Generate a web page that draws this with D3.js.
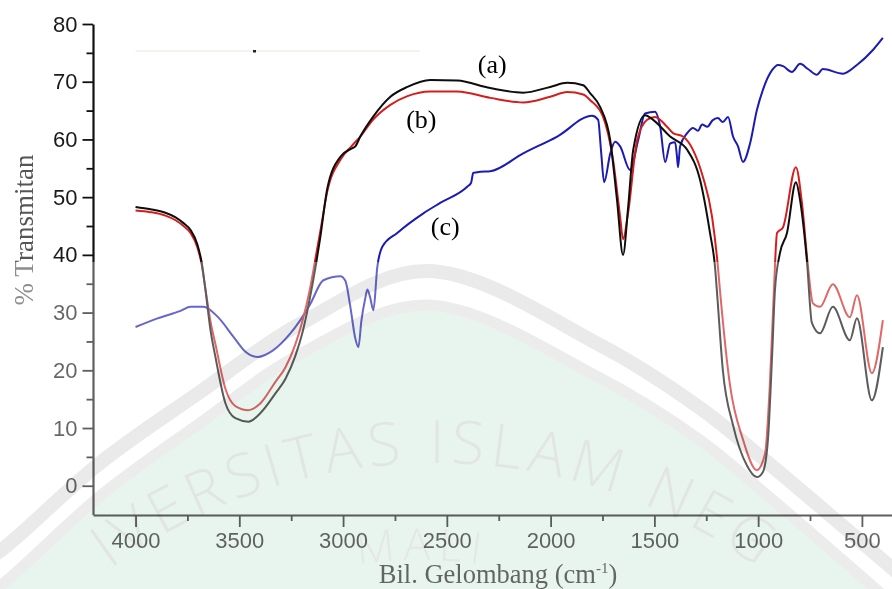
<!DOCTYPE html>
<html>
<head>
<meta charset="utf-8">
<script src="https://cdn.jsdelivr.net/npm/d3@7"></script>
<style>
  body { margin: 0; background: #fff; }
  svg { display: block; }
</style>
</head>
<body>
<div id="chart"></div>
<script>
// spectra: [wavenumber cm-1, % transmitan]
var specA = [
  [4000,48.3],[3928,47.9],[3856,47.3],[3807,46.5],[3769,45.5],[3735,44.3],[3702,41.8],
  [3682,38.8],[3663,33.9],[3639,27],[3615,22.3],[3567,14.3],[3519,11.7],[3456,11.1],
  [3398,12.6],[3326,16],[3278,18.5],[3230,22.5],[3196,26.5],[3160,32.5],[3130,38.5],
  [3110,43],[3076,51.5],[3013,57],[2960,58.4],[2941,58.8],[2917,60.5],[2854,64],
  [2772,67.4],[2690,69.1],[2580,70.3],[2450,70.2],[2291,68.9],[2132,68.1],[2002,69.1],
  [1920,69.8],[1843,69.4],[1809,68],[1761,65.6],[1713,59.9],[1680,49.5],[1651,40],
  [1627,48],[1602,58.2],[1545,64.2],[1506,63.4],[1424,60.5],[1342,58.2],[1280,53],
  [1232,43.8],[1208,38],[1199,33.9],[1170,20],[1121,10.5],[1054,3.5],[1006,1.5],
  [977,2.4],[953,7.9],[933,22.3],[919,33.9],[895,40.3],[861,43.8],[818,52.6],[798,49.5],
  [765,39],[741,28.2],[702,26.4],[640,31],[558,25.2],[524,29],[452,14.8],[399,24]
];
var specB = [
  [4000,47.7],[3928,47.4],[3856,46.8],[3807,46],[3769,45],[3735,43.8],[3702,41.3],
  [3682,38.5],[3663,34],[3639,28.5],[3615,24.5],[3567,16.8],[3519,13.8],[3456,13.1],
  [3398,14.3],[3326,18],[3278,20.5],[3230,24.5],[3196,28.5],[3160,34],[3130,40],
  [3110,44],[3076,51],[3013,56.5],[2960,58.8],[2917,60.5],[2854,63.5],[2772,66],
  [2690,67.5],[2580,68.3],[2450,68.3],[2291,67.2],[2132,66.4],[2002,67.4],[1920,68.2],
  [1843,67.8],[1809,66.8],[1747,63.9],[1699,56.4],[1665,46.6],[1651,42.7],[1627,47.2],
  [1583,59.9],[1535,63.4],[1497,63.9],[1439,62.2],[1410,61.1],[1362,60.5],[1314,58.2],
  [1266,53.5],[1222,46.6],[1194,38],[1184,33.9],[1136,17.5],[1073,8],[1006,2.7],
  [967,5.5],[943,18],[924,33.9],[909,43.8],[880,44.8],[818,55.2],[789,49],[760,38],
  [736,31.6],[702,31],[640,34.9],[558,29.2],[524,33],[452,19.5],[399,28.7]
];
var specC = [
  [4000,27.5],[3894,29],[3783,30.3],[3735,31],[3673,31],[3605,29.3],[3528,25.8],
  [3470,23.2],[3413,22.3],[3336,23.5],[3254,26.4],[3206,28.7],[3158,31.5],[3095,35.6],
  [3013,36.3],[2989,35.5],[2965,31],[2941,25.5],[2926,24],[2912,28.5],[2893,32.5],
  [2883,34],[2870,32.7],[2854,30.4],[2835,37.9],[2811,41.4],[2739,43.8],[2613,47.2],
  [2532,49],[2402,51.8],[2383,52.5],[2373,54.2],[2339,54.4],[2291,54.5],[2132,57.6],
  [1968,60.5],[1800,64.1],[1771,63.4],[1757,58],[1742,52.6],[1713,57.5],[1689,59.6],
  [1665,58.8],[1617,54.7],[1578,59.9],[1545,64.5],[1497,64.8],[1472,62.2],[1448,56.1],
  [1424,59.3],[1400,59.5],[1391,57],[1386,55.2],[1376,58.8],[1342,61.1],[1314,62],
  [1290,61.5],[1270,62.6],[1245,62.2],[1220,63.3],[1194,63.7],[1170,63],[1145,63.9],
  [1121,60.5],[1097,58.8],[1073,56.1],[1039,59.3],[1006,65.1],[977,68.6],[933,72],
  [904,72.9],[880,72.7],[837,71.7],[798,73.1],[760,72.2],[717,71.2],[688,72.2],
  [591,71.4],[524,72.9],[447,75.5],[399,77.6]
];
var seriesNames = ["(a)", "(b)", "(c)"];
var seriesColors = ["#0d0d0d", "#d41e1e", "#1b1bb3"];
var labelAt = [[2281, 71.5], [2623, 62.0], [2508, 43.4]];   // where the (a)(b)(c) tags sit

var xMajor = [4000, 3500, 3000, 2500, 2000, 1500, 1000, 500];
var xMinor = [3750, 3250, 2750, 2250, 1750, 1250, 750];
var yMajor = [0, 10, 20, 30, 40, 50, 60, 70, 80];
var yMinor = [5, 15, 25, 35, 45, 55, 65, 75];

var W = 892, H = 589;
var svg = d3.select("#chart").append("svg")
    .attr("width", W)
    .attr("height", H);

svg.append("rect").attr("width", W).attr("height", H).attr("fill", "#fff");

var x = d3.scaleLinear().domain([4205, 355]).range([93, 892]);
var y = d3.scaleLinear().domain([-5, 80]).range([514.6, 24]);

var defs = svg.append("defs");
defs.append("clipPath").attr("id", "plot")
  .append("rect").attr("x", 93).attr("y", 0).attr("width", W - 93).attr("height", 515);

// faint stray line at the top of the scan
svg.append("line")
    .attr("x1", x(4000)).attr("x2", x(2630)).attr("y1", 51).attr("y2", 51)
    .attr("stroke", "#f1f1e8").attr("stroke-width", 1.5);
svg.append("rect").attr("x", 253).attr("y", 50).attr("width", 3).attr("height", 2.5).attr("fill", "#222");

////////// spectra //////////
var line = d3.line()
    .x(function(d) { return x(d[0]); })
    .y(function(d) { return y(d[1]); })
    .curve(d3.curveMonotoneX);

var plot = svg.append("g").attr("clip-path", "url(#plot)");
[specC, specB, specA].forEach(function(s, i) {
  var k = 2 - i;
  plot.append("path")
      .datum(s)
      .attr("d", line)
      .attr("fill", "none")
      .attr("stroke", seriesColors[k])
      .attr("stroke-width", 2)
      .attr("stroke-linejoin", "round");
});

svg.selectAll(".tag")
  .data(seriesNames)
  .enter().append("text")
    .attr("class", "tag")
    .attr("x", function(d, i) { return x(labelAt[i][0]); })
    .attr("y", function(d, i) { return y(labelAt[i][1]); })
    .attr("text-anchor", "middle")
    .attr("font-family", "Liberation Serif, Times New Roman, serif")
    .attr("font-size", 26)
    .attr("fill", "#000")
    .text(function(d) { return d; });

////////// axes //////////
var axisColor = "#111";
svg.append("g").attr("transform", "translate(93,0)")
    .call(d3.axisLeft(y).tickValues(yMajor).tickSize(10.5).tickPadding(5)
      .tickSizeOuter(0).tickFormat(d3.format("d")));
svg.append("g").attr("class", "minor").attr("transform", "translate(93,0)")
    .call(d3.axisLeft(y).tickValues(yMinor).tickSize(6.5).tickSizeOuter(0));

svg.append("g").attr("transform", "translate(0,515)")
    .call(d3.axisBottom(x).tickValues(xMajor).tickSize(12).tickPadding(5)
      .tickSizeOuter(0).tickFormat(d3.format("d")));
svg.append("g").attr("class", "minor").attr("transform", "translate(0,515)")
    .call(d3.axisBottom(x).tickValues(xMinor).tickSize(6).tickSizeOuter(0));

svg.selectAll(".minor .domain").remove();
svg.selectAll(".minor text").remove();

svg.selectAll(".domain").attr("stroke", axisColor).attr("stroke-width", 2.2);
svg.selectAll(".tick line").attr("stroke", axisColor).attr("stroke-width", 1.8);
svg.selectAll(".tick text")
    .attr("font-family", "Liberation Sans, Arial, sans-serif")
    .attr("font-size", 22)
    .attr("fill", "#1a1a1a");

svg.append("text")
    .attr("transform", "translate(33,230) rotate(-90)")
    .attr("text-anchor", "middle")
    .attr("font-family", "Liberation Serif, Times New Roman, serif")
    .attr("font-size", 27)
    .attr("fill", "#555")
    .text("% Transmitan");

var xt = svg.append("text")
    .attr("x", 498).attr("y", 583)
    .attr("text-anchor", "middle")
    .attr("font-family", "Liberation Serif, Times New Roman, serif")
    .attr("font-size", 26.5)
    .attr("fill", "#222");
xt.append("tspan").text("Bil. Gelombang (cm");
xt.append("tspan").attr("dy", -10).attr("font-size", 15).text("-1");
xt.append("tspan").attr("dy", 10).text(")");

////////// watermark (scan overlay) //////////
svg.append("rect")
    .attr("x", 0).attr("y", 262).attr("width", W).attr("height", H - 262)
    .attr("fill", "#fff").attr("opacity", 0.33);

var wm = svg.append("g").style("mix-blend-mode", "multiply");
var arc = d3.line().curve(d3.curveCatmullRom);
var outer = [[-20,562],[0,551],[100,463],[200,392],[300,324],[427,271],[600,345],[700,408],[767,462],[900,575]];
var inner = [[-20,598],[0,586],[100,496],[200,423],[300,354],[427,305],[600,378],[700,440],[767,495],[900,610]];

wm.append("path")
    .attr("d", arc(inner) + "L900,620L-20,620Z")
    .attr("fill", "#e8f5ee");
wm.append("path")
    .attr("d", arc(inner))
    .attr("fill", "none").attr("stroke", "#ebeceb").attr("stroke-width", 11);
wm.append("path")
    .attr("d", arc(outer))
    .attr("fill", "none").attr("stroke", "#eaeaea").attr("stroke-width", 14);

// logo lettering, one glyph at a time round an arc (glyphs falling off the page are dropped)
function arcText(str, cx, cy, R, size, spacing, fill) {
  var g = wm.append("g")
      .attr("font-family", "Open Sans, Liberation Sans, sans-serif")
      .attr("font-weight", 300)
      .attr("font-size", size)
      .attr("fill", fill);
  var probe = g.append("text");
  var widths = str.split("").map(function(c) {
    probe.text(c === " " ? "\u00a0" : c);
    return probe.node().getComputedTextLength() + spacing;
  });
  probe.remove();
  var total = d3.sum(widths), s = -total / 2;
  str.split("").forEach(function(c, i) {
    var mid = s + widths[i] / 2, phi = mid / R;
    s += widths[i];
    var px = cx + R * Math.sin(phi), py = cy - R * Math.cos(phi);
    if (c === " " || py > H - 24 || px < size * 0.6 || px > W - size * 0.6) return;
    g.append("text")
        .attr("text-anchor", "middle")
        .attr("transform", "translate(" + px + "," + py + ") rotate(" + (phi * 180 / Math.PI) + ")")
        .text(c);
  });
}
arcText("UNIVERSITAS ISLAM NEGERI", 435, 1013, 550, 60, 6, "#e2e6e3");
arcText("MAULANA MALIK IBRAHIM", 420, 990, 430, 44, 8, "#e4e8e5");
</script>
</body>
</html>
